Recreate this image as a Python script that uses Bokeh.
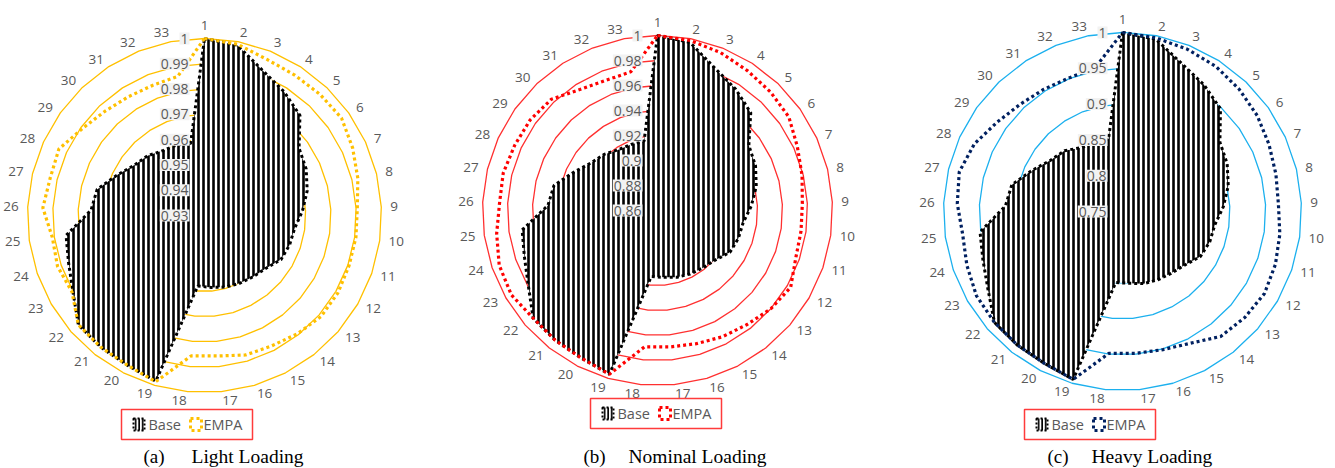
import numpy as np
from bokeh.plotting import figure
from bokeh.models import Range1d, ColumnDataSource
from bokeh.core.properties import value, field
from bokeh.embed import file_html
from bokeh.resources import INLINE

# ---------------- data ----------------
buses = [str(i) for i in range(1, 34)]

base_light = [1.0, 0.9986, 0.9918, 0.9882, 0.9847, 0.9759, 0.9742, 0.9718, 0.9688, 0.9660,
              0.9656, 0.9649, 0.9620, 0.9609, 0.9602, 0.9595, 0.9586, 0.9580, 0.9983, 0.9966,
              0.9963, 0.9960, 0.9901, 0.9869, 0.9853, 0.9749, 0.9737, 0.9682, 0.9642, 0.9626,
              0.9605, 0.9600, 0.9590]
empa_light = [1.0, 0.9990, 0.9965, 0.9960, 0.9962, 0.9965, 0.9944, 0.9924, 0.9905, 0.9905,
              0.9905, 0.9910, 0.9910, 0.9895, 0.9880, 0.9875, 0.9858, 0.9858, 0.9985, 0.9966,
              0.9963, 0.9960, 0.9905, 0.9915, 0.9908, 0.9940, 0.9928, 0.9933, 0.9893, 0.9870,
              0.9858, 0.9854, 0.9860]

base_nominal = [1.0, 0.9970, 0.9829, 0.9755, 0.9681, 0.9497, 0.9462, 0.9413, 0.9351, 0.9292,
                0.9284, 0.9269, 0.9208, 0.9185, 0.9171, 0.9157, 0.9137, 0.9131, 0.9965, 0.9929,
                0.9922, 0.9916, 0.9794, 0.9727, 0.9694, 0.9477, 0.9452, 0.9337, 0.9255, 0.9220,
                0.9178, 0.9169, 0.9166]
empa_nominal = [1.0, 0.9985, 0.9960, 0.9930, 0.9910, 0.9890, 0.9830, 0.9790, 0.9760, 0.9760,
                0.9770, 0.9830, 0.9800, 0.9760, 0.9736, 0.9710, 0.9696, 0.9696, 0.9965, 0.9929,
                0.9922, 0.9916, 0.9950, 0.9940, 0.9900, 0.9865, 0.9870, 0.9856, 0.9850, 0.9830,
                0.9750, 0.9720, 0.9730]

base_heavy = [1.0, 0.9952, 0.9726, 0.9603, 0.9483, 0.9170, 0.9107, 0.9020, 0.8910, 0.8803,
              0.8790, 0.8757, 0.8646, 0.8598, 0.8574, 0.8550, 0.8507, 0.8497, 0.9944, 0.9886,
              0.9875, 0.9866, 0.9670, 0.9563, 0.9510, 0.9137, 0.9090, 0.8886, 0.8733, 0.8674,
              0.8560, 0.8540, 0.8530]
empa_heavy = [1.0, 0.9970, 0.9940, 0.9910, 0.9860, 0.9810, 0.9750, 0.9705, 0.9680, 0.9720,
              0.9760, 0.9790, 0.9760, 0.9720, 0.9570, 0.9510, 0.9490, 0.9490, 0.9944, 0.9886,
              0.9875, 0.9866, 0.9855, 0.9800, 0.9755, 0.9810, 0.9846, 0.9774, 0.9650, 0.9570,
              0.9530, 0.9510, 0.9540]

light_ticks = [0.93, 0.94, 0.95, 0.96, 0.97, 0.98, 0.99, 1.0]
light_tick_labels = ["0.93", "0.94", "0.95", "0.96", "0.97", "0.98", "0.99", "1"]
nominal_ticks = [0.86, 0.88, 0.90, 0.92, 0.94, 0.96, 0.98, 1.0]
nominal_tick_labels = ["0.86", "0.88", "0.9", "0.92", "0.94", "0.96", "0.98", "1"]
heavy_ticks = [0.75, 0.80, 0.85, 0.90, 0.95, 1.0]
heavy_tick_labels = ["0.75", "0.8", "0.85", "0.9", "0.95", "1"]

series_names = ["Base", "EMPA"]
panel_letters = ["(a)", "(b)", "(c)"]
panel_titles = ["Light Loading", "Nominal Loading", "Heavy Loading"]

# ---------------- figure ----------------
W, H = 1335, 468
p = figure(width=W, height=H, output_backend="svg", toolbar_location=None,
           x_range=Range1d(0, W), y_range=Range1d(H, 0),
           min_border=0, outline_line_color=None)
p.axis.visible = False
p.xgrid.visible = False
p.ygrid.visible = False
p.background_fill_color = "white"
p.border_fill_color = "white"

GREY = "#595959"
FONT = "Open Sans"

panels = [
    dict(cx=204, cy=215, R=177, ticks=light_ticks, tl=light_tick_labels,
         base=base_light, empa=empa_light, ring="#FFC000", ec="#FFC000",
         leg=(121, 409), cap=(143, 191)),
    dict(cx=657, cy=210, R=175, ticks=nominal_ticks, tl=nominal_tick_labels,
         base=base_nominal, empa=empa_nominal, ring="#FF3030", ec="#FF0000",
         leg=(590, 398), cap=(583, 628)),
    dict(cx=1122, cy=211, R=179, ticks=heavy_ticks, tl=heavy_tick_labels,
         base=base_heavy, empa=empa_heavy, ring="#1CB0EE", ec="#002060",
         leg=(1024, 409), cap=(1047, 1091)),
]

n = len(buses)
theta = np.deg2rad(np.arange(n) * 360.0 / n)


def polar(vals, cfg, extra=0.0):
    vmin, vmax = cfg["ticks"][0], cfg["ticks"][-1]
    r = cfg["R"] * (np.asarray(vals, dtype=float) - vmin) / (vmax - vmin) + extra
    return cfg["cx"] + r * np.sin(theta), cfg["cy"] - r * np.cos(theta)


for i, cfg in enumerate(panels):
    cx, cy, R = cfg["cx"], cfg["cy"], cfg["R"]
    vmin, vmax = cfg["ticks"][0], cfg["ticks"][-1]
    # rings
    for t in cfg["ticks"][1:]:
        rx, ry = polar([t] * n, cfg)
        p.line(list(rx) + [rx[0]], list(ry) + [ry[0]], line_color=cfg["ring"], line_width=1.3)
    # base area
    bx, by = polar(cfg["base"], cfg)
    p.patch(list(bx), list(by), fill_color="white", hatch_pattern="vertical_line",
            hatch_color="black", hatch_scale=5, hatch_weight=2.6,
            line_color="black", line_width=3, line_dash="3 3")
    # EMPA line
    ex, ey = polar(cfg["empa"], cfg)
    p.line(list(ex) + [ex[0]], list(ey) + [ey[0]], line_color=cfg["ec"], line_width=3.2,
           line_dash="3 3")
    # radial tick labels
    ty = [cy - R * (t - vmin) / (vmax - vmin) for t in cfg["ticks"]]
    p.text(x=[cx - 15] * len(ty), y=ty, text=cfg["tl"], text_align="right",
           text_baseline="middle", text_font=value(FONT), text_font_size="14px",
           text_color=GREY, background_fill_color="#F2F2F2", padding=1)
    # category labels
    lx, ly = polar([vmax] * n, cfg, extra=9)
    aligns, bases = [], []
    for k in range(n):
        if k == 0:
            aligns.append("center"); bases.append("bottom")
        elif k < n / 2:
            aligns.append("left"); bases.append("middle")
        else:
            aligns.append("right"); bases.append("middle")
    src = ColumnDataSource(dict(x=lx, y=ly, t=buses, a=aligns, b=bases))
    p.text(x="x", y="y", text="t", source=src, text_align=field("a"),
           text_baseline=field("b"), text_font=value(FONT), text_font_size="13.5px",
           text_color=GREY)
    # legend
    lx0, ly0 = cfg["leg"]
    p.quad(left=[lx0], right=[lx0 + 131], top=[ly0], bottom=[ly0 + 30],
           fill_color=None, line_color="#FF3B3B", line_width=1.5)
    p.quad(left=[lx0 + 12], right=[lx0 + 23], top=[ly0 + 9], bottom=[ly0 + 21],
           fill_color="white", hatch_pattern="vertical_line", hatch_color="black",
           hatch_scale=3.5, hatch_weight=1.8, line_color="black", line_width=2,
           line_dash="2 2")
    p.text(x=[lx0 + 27], y=[ly0 + 15], text=[series_names[0]], text_align="left",
           text_baseline="middle", text_font=value(FONT), text_font_size="14.5px",
           text_color=GREY)
    p.quad(left=[lx0 + 69], right=[lx0 + 80], top=[ly0 + 9], bottom=[ly0 + 21],
           fill_color=None, line_color=cfg["ec"], line_width=3, line_dash="3 3")
    p.text(x=[lx0 + 82], y=[ly0 + 15], text=[series_names[1]], text_align="left",
           text_baseline="middle", text_font=value(FONT), text_font_size="14.5px",
           text_color=GREY)
    # caption
    c1, c2 = cfg["cap"]
    p.text(x=[c1], y=[456], text=[panel_letters[i]], text_align="left",
           text_baseline="alphabetic", text_font=value("Liberation Serif"),
           text_font_size="19px", text_color="black")
    p.text(x=[c2], y=[456], text=[panel_titles[i]], text_align="left",
           text_baseline="alphabetic", text_font=value("Liberation Serif"),
           text_font_size="19.5px", text_color="black")

open("out.html", "w").write(file_html(p, INLINE))
